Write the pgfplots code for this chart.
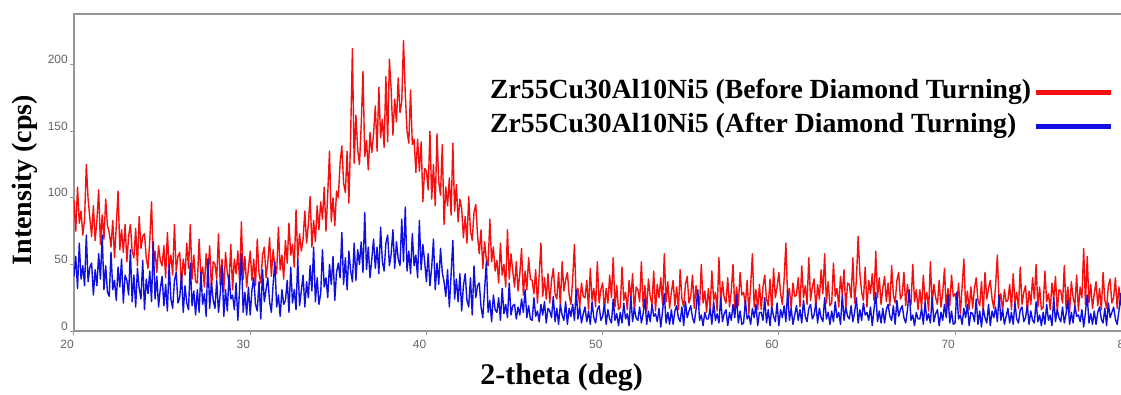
\documentclass[border=0pt]{standalone}
\usepackage{fontspec}
\setmainfont{Liberation Serif}
\newfontfamily\ticksans{Liberation Sans}
\usepackage{pgfplots}
\usepackage{pgfplotstable}
\pgfplotsset{compat=1.18}
\definecolor{xred}{RGB}{245,15,15}
\definecolor{xblue}{RGB}{15,15,225}
\definecolor{axgray}{RGB}{150,150,150}
\definecolor{tickgray}{RGB}{100,100,100}

% intensities every 0.1 deg from 20.0 to 80.3
\pgfplotstableread[row sep=\\]{y\\
98\\75\\108\\81\\90\\72\\84\\125\\99\\85\\
71\\94\\68\\83\\106\\65\\87\\69\\99\\79\\
74\\63\\83\\55\\79\\105\\61\\76\\59\\80\\
52\\71\\80\\60\\55\\77\\49\\86\\62\\71\\
73\\55\\47\\68\\97\\51\\60\\44\\64\\53\\
49\\64\\40\\74\\47\\57\\42\\80\\45\\56\\
59\\35\\54\\42\\66\\47\\80\\39\\57\\37\\
36\\69\\41\\48\\33\\58\\43\\64\\31\\52\\
50\\39\\73\\34\\54\\30\\59\\44\\36\\65\\
31\\54\\43\\60\\37\\82\\39\\56\\33\\47\\
60\\38\\54\\34\\69\\43\\36\\57\\63\\40\\
52\\70\\41\\61\\48\\43\\78\\46\\57\\39\\
68\\51\\81\\57\\65\\48\\91\\54\\73\\60\\
69\\90\\66\\80\\101\\63\\83\\67\\94\\76\\
97\\84\\108\\75\\103\\135\\82\\100\\79\\105\\
100\\126\\139\\111\\104\\135\\96\\147\\212\\126\\
162\\136\\125\\155\\195\\131\\143\\121\\149\\134\\
148\\169\\135\\183\\145\\159\\138\\191\\142\\204\\
181\\147\\174\\157\\190\\164\\172\\218\\178\\150\\
141\\181\\140\\144\\119\\144\\120\\142\\97\\122\\
120\\106\\150\\99\\125\\94\\148\\112\\102\\140\\
80\\108\\94\\115\\87\\141\\90\\110\\82\\99\\
92\\70\\86\\66\\101\\75\\68\\89\\95\\72\\
58\\76\\47\\67\\54\\49\\84\\52\\63\\45\\
53\\36\\66\\42\\50\\33\\76\\39\\58\\45\\
33\\52\\30\\43\\62\\27\\45\\31\\55\\39\\
38\\28\\46\\21\\42\\66\\26\\40\\24\\43\\
21\\38\\47\\28\\24\\44\\19\\52\\30\\38\\
44\\27\\20\\39\\65\\24\\32\\18\\36\\26\\
25\\38\\16\\47\\23\\32\\18\\52\\21\\31\\
36\\15\\32\\21\\42\\25\\55\\18\\34\\16\\
18\\48\\23\\29\\16\\38\\24\\43\\14\\33\\
31\\22\\52\\18\\34\\15\\39\\26\\20\\45\\
15\\35\\25\\40\\20\\58\\22\\37\\17\\29\\
38\\19\\33\\16\\46\\24\\18\\35\\41\\21\\
26\\42\\17\\34\\23\\19\\50\\21\\30\\14\\
32\\17\\45\\23\\29\\15\\55\\20\\37\\25\\
21\\40\\18\\30\\50\\16\\33\\19\\44\\27\\
29\\20\\38\\13\\34\\58\\18\\31\\16\\35\\
16\\33\\42\\24\\19\\39\\14\\47\\25\\33\\
44\\28\\20\\39\\66\\24\\32\\17\\36\\26\\
27\\40\\18\\49\\25\\34\\20\\55\\23\\33\\
39\\17\\35\\24\\46\\28\\58\\21\\37\\19\\
21\\51\\26\\32\\18\\41\\27\\46\\16\\36\\
35\\25\\55\\21\\38\\71\\43\\29\\23\\48\\
18\\38\\28\\43\\23\\60\\25\\40\\20\\32\\
41\\22\\36\\19\\49\\27\\21\\38\\44\\24\\
27\\44\\19\\35\\24\\20\\50\\22\\31\\16\\
31\\17\\42\\22\\29\\15\\52\\20\\35\\25\\
20\\38\\18\\29\\47\\16\\32\\19\\42\\26\\
28\\20\\36\\13\\33\\54\\18\\30\\16\\33\\
17\\32\\40\\23\\19\\37\\14\\44\\24\\32\\
38\\24\\17\\34\\57\\21\\28\\15\\31\\22\\
23\\35\\16\\43\\21\\29\\17\\48\\20\\29\\
34\\15\\30\\20\\40\\24\\50\\18\\33\\16\\
18\\45\\22\\28\\16\\36\\24\\41\\14\\31\\
30\\21\\49\\17\\33\\14\\37\\25\\19\\42\\
15\\33\\25\\62\\20\\56\\21\\35\\17\\28\\
37\\19\\32\\16\\44\\23\\17\\34\\39\\21\\
25\\40\\17\\33\\22\\18\\46\\20\\29\\15\\
28\\19\\36\\22\\
}\redtable

\pgfplotstableread[row sep=\\]{y\\
41\\56\\32\\66\\39\\49\\34\\72\\37\\48\\
51\\27\\46\\34\\58\\39\\72\\31\\49\\29\\
26\\59\\31\\38\\23\\48\\33\\54\\21\\42\\
38\\27\\61\\22\\42\\18\\47\\32\\24\\53\\
16\\39\\28\\45\\22\\67\\24\\41\\18\\32\\
41\\19\\35\\15\\50\\24\\17\\38\\44\\21\\
25\\43\\14\\34\\21\\16\\51\\19\\30\\12\\
31\\14\\44\\20\\28\\11\\54\\17\\36\\23\\
17\\38\\14\\28\\49\\11\\31\\15\\42\\24\\
27\\16\\36\\8\\32\\58\\14\\29\\12\\33\\
12\\31\\40\\20\\15\\37\\9\\46\\22\\31\\
40\\22\\14\\35\\52\\18\\27\\11\\31\\20\\
23\\38\\14\\48\\21\\31\\16\\54\\19\\30\\
42\\18\\37\\25\\49\\30\\63\\22\\40\\20\\
28\\61\\33\\40\\25\\50\\35\\56\\23\\44\\
51\\40\\74\\35\\55\\31\\60\\45\\37\\66\\
38\\61\\50\\67\\44\\89\\46\\63\\40\\54\\
69\\47\\63\\43\\78\\52\\45\\66\\72\\49\\
58\\76\\47\\67\\54\\49\\84\\52\\93\\45\\
60\\43\\73\\49\\57\\40\\83\\46\\65\\52\\
37\\58\\34\\48\\69\\31\\51\\35\\62\\44\\
37\\26\\46\\18\\42\\68\\24\\39\\22\\43\\
15\\34\\43\\23\\18\\40\\12\\49\\25\\34\\
36\\18\\10\\31\\52\\14\\23\\7\\27\\16\\
14\\25\\8\\32\\13\\20\\10\\36\\12\\19\\
20\\9\\18\\12\\24\\14\\31\\10\\19\\9\\
8\\25\\11\\15\\7\\20\\12\\22\\6\\17\\
15\\10\\26\\7\\17\\5\\20\\12\\8\\22\\
5\\17\\11\\20\\8\\31\\9\\18\\6\\13\\
18\\7\\15\\5\\22\\10\\6\\16\\19\\8\\
11\\20\\5\\16\\9\\6\\24\\8\\13\\4\\
14\\6\\21\\9\\13\\4\\26\\7\\17\\10\\
8\\18\\6\\13\\24\\5\\15\\7\\20\\11\\
13\\7\\17\\3\\15\\28\\6\\14\\5\\16\\
5\\15\\19\\10\\7\\18\\4\\22\\10\\15\\
19\\10\\6\\16\\31\\8\\12\\4\\14\\9\\
9\\17\\5\\22\\8\\13\\6\\25\\7\\13\\
16\\4\\14\\8\\20\\10\\27\\6\\15\\5\\
6\\23\\9\\12\\5\\17\\10\\20\\4\\14\\
14\\8\\25\\6\\16\\4\\18\\11\\7\\21\\
4\\16\\10\\19\\7\\30\\8\\17\\5\\12\\
19\\8\\16\\6\\23\\11\\7\\17\\20\\9\\
12\\21\\6\\17\\10\\7\\25\\9\\14\\5\\
15\\7\\22\\10\\14\\5\\27\\8\\18\\11\\
9\\19\\7\\14\\25\\6\\16\\8\\21\\12\\
14\\8\\18\\4\\16\\29\\7\\15\\6\\17\\
6\\16\\20\\11\\8\\19\\5\\23\\11\\16\\
19\\10\\6\\16\\31\\8\\12\\4\\14\\9\\
9\\17\\5\\22\\8\\13\\6\\25\\7\\13\\
16\\4\\14\\8\\20\\10\\27\\6\\15\\5\\
6\\29\\9\\12\\5\\17\\10\\20\\4\\14\\
13\\7\\24\\5\\15\\3\\17\\10\\6\\20\\
4\\15\\10\\18\\7\\27\\8\\16\\5\\11\\
17\\6\\14\\5\\21\\9\\6\\16\\18\\7\\
10\\19\\5\\15\\8\\6\\22\\7\\12\\4\\
14\\5\\20\\8\\12\\4\\25\\7\\16\\10\\
7\\18\\6\\13\\23\\5\\14\\6\\19\\11\\
12\\7\\16\\3\\14\\27\\6\\13\\5\\15\\
5\\14\\18\\9\\6\\17\\4\\21\\10\\14\\
18\\9\\5\\15\\28\\7\\11\\3\\13\\8\\
9\\16\\6\\20\\
}\bluetable

\begin{document}
\begin{tikzpicture}
\path[use as bounding box] (-74pt,-63pt) rectangle (1047pt,331pt);
\begin{axis}[
  at={(0pt,0pt)}, anchor=south west,
  scale only axis,
  width=1062.5pt, height=317pt,
  xmin=20, xmax=80.3, ymin=0, ymax=238,
  xtick={20,30,40,50,60,70,80},
  ytick={0,50,100,150,200},
  axis line style={axgray, line width=2pt},
  tick style={axgray, line width=1pt},
  major tick length=4pt,
  tick align=outside,
  xtick pos=bottom, ytick pos=left,
  /pgf/number format/assume math mode=true,
  ticklabel style={font=\ticksans\fontsize{12}{12}\selectfont, text=tickgray},
  xticklabel style={anchor=north east, inner xsep=0pt, yshift=-2pt},
  yticklabel style={anchor=east, yshift=5pt, inner xsep=2pt},
  xlabel={2-theta (deg)},
  ylabel={Intensity (cps)},
  xlabel style={at={(axis description cs:0.459,-0.170)}, anchor=base, font=\bfseries\fontsize{30}{34}\selectfont},
  ylabel style={at={(axis description cs:-0.0461,0.476)}, rotate=0, anchor=center, font=\bfseries\fontsize{28}{32}\selectfont},
  legend plot pos=right,
  legend cell align=left,
  legend image code/.code={\draw[#1, line width=5pt] (0pt,0pt) -- (75pt,0pt);},
  legend style={at={(axis description cs:0.3887,0.80)}, anchor=north west,
    draw=none, fill=none, row sep=9pt, column sep=2pt,
    font=\bfseries\fontsize{27.7}{32}\selectfont,
    nodes={inner sep=0pt, text height=19pt, text depth=6pt}},
]
\addplot[xred, line width=1.4pt, line join=round] table[x expr={20+0.1*\coordindex}, y=y] {\redtable};
\addlegendentry{Zr55Cu30Al10Ni5 (Before Diamond Turning)}
\addplot[xblue, line width=1.4pt, line join=round] table[x expr={20+0.1*\coordindex}, y=y] {\bluetable};
\addlegendentry{Zr55Cu30Al10Ni5 (After Diamond Turning)}
\end{axis}
\end{tikzpicture}
\end{document}
